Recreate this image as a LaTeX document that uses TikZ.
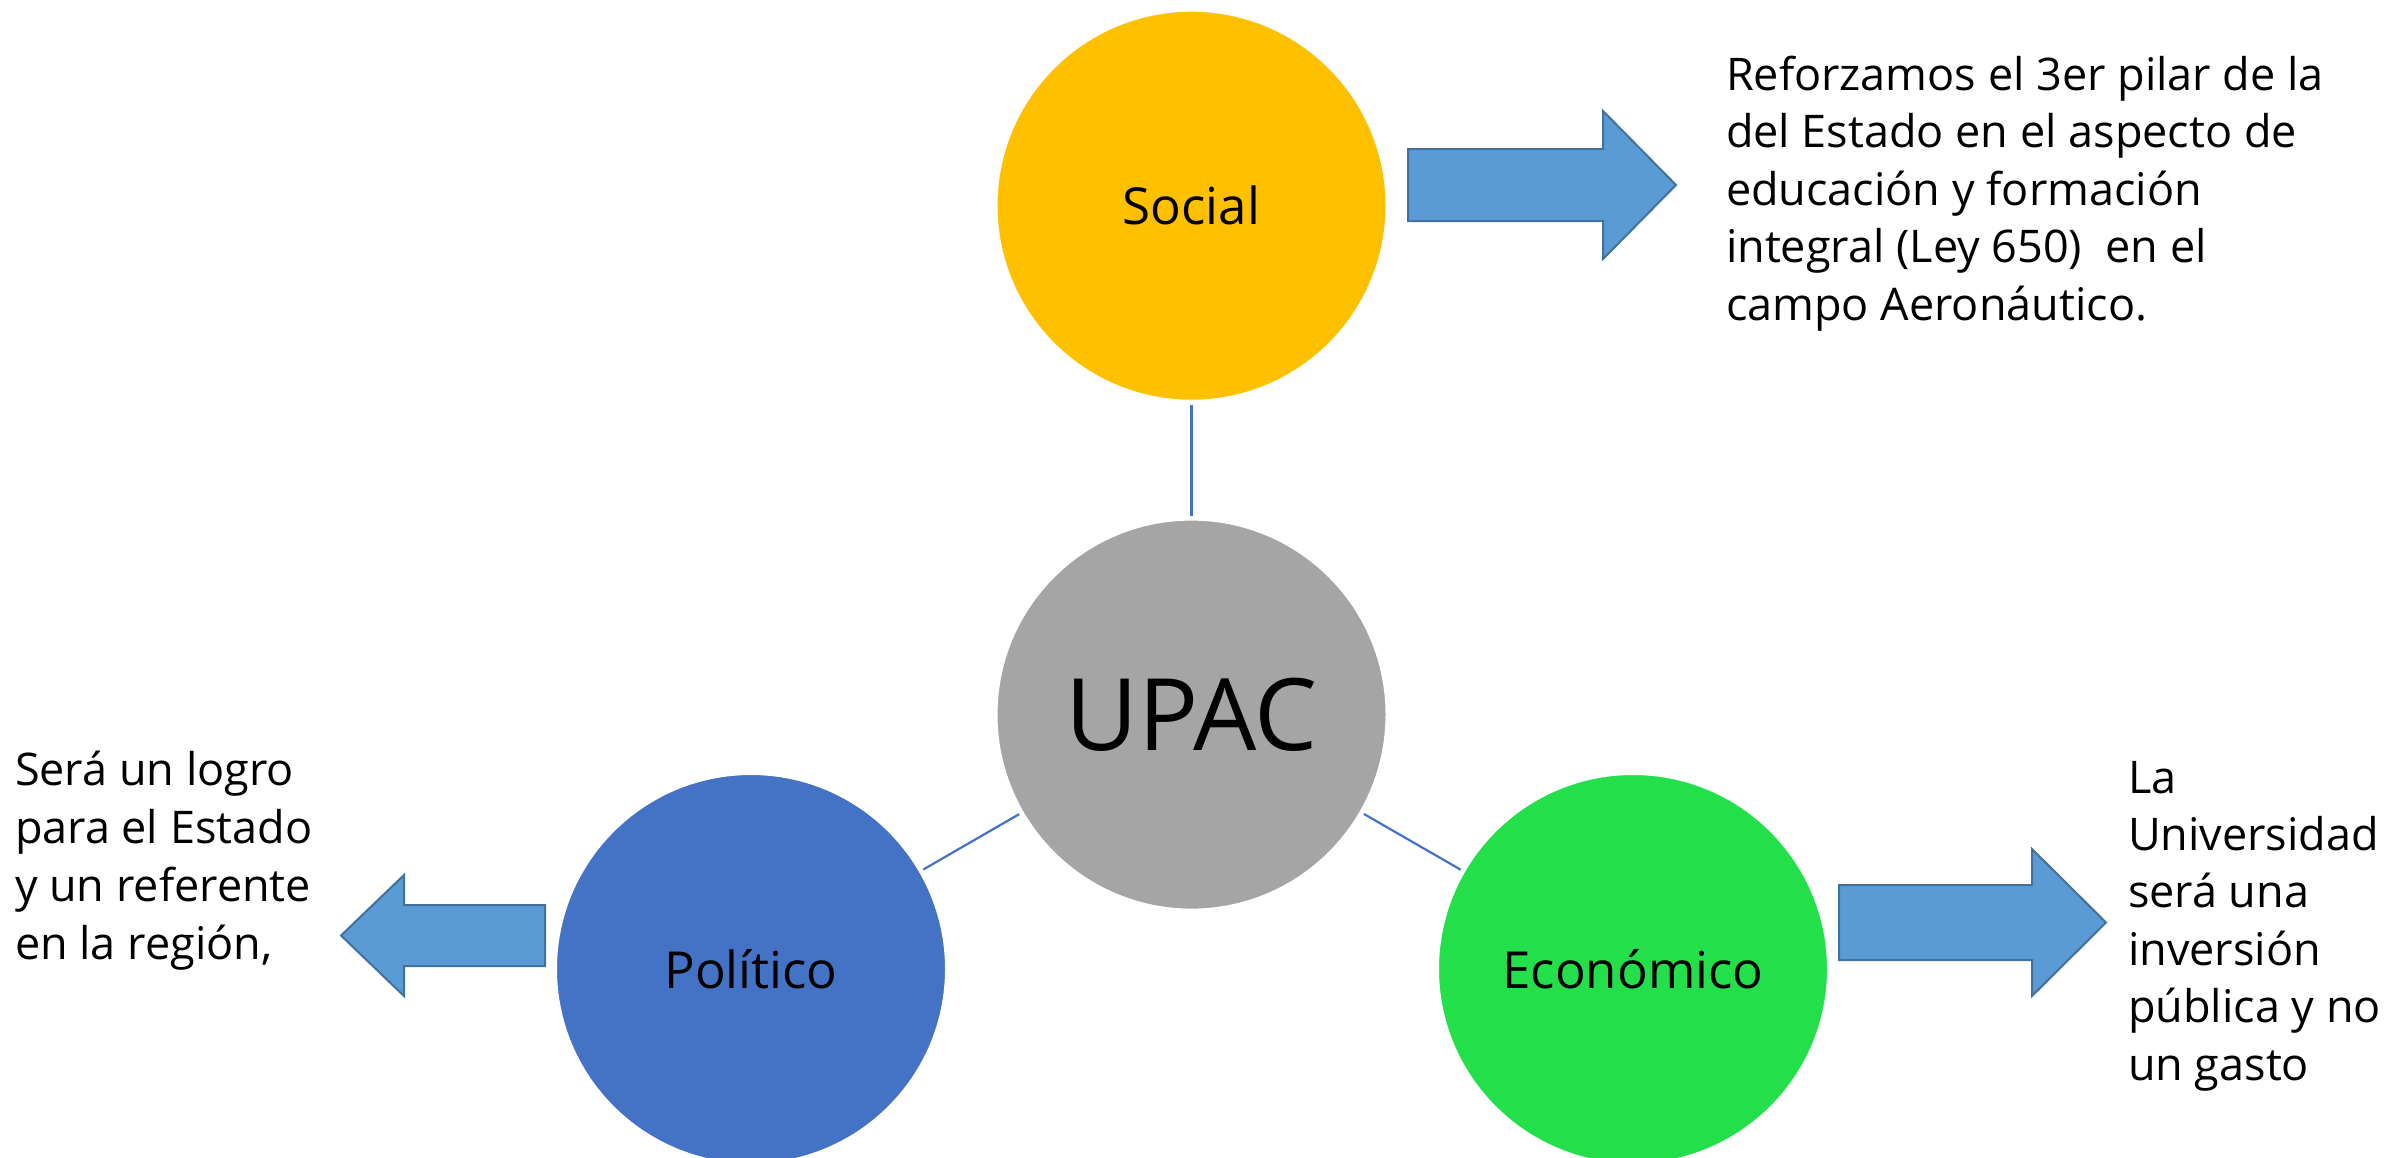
\documentclass[tikz,border=0pt]{standalone}
\usepackage{fontspec}
\setmainfont{Open Sans}
\definecolor{socialc}{HTML}{FFC000}
\definecolor{upacc}{HTML}{A5A5A5}
\definecolor{politc}{HTML}{4472C4}
\definecolor{econc}{HTML}{23E04A}
\definecolor{arrfill}{HTML}{5B9BD5}
\definecolor{arrdraw}{HTML}{41719C}
\definecolor{linec}{HTML}{4472C4}
\tikzset{
  circ/.style={circle, minimum size=390pt, inner sep=0pt, draw=white, line width=2pt, outer sep=4pt,
    font=\fontsize{51}{61}\selectfont},
  conn/.style={draw=linec, line width=2.2pt},
  bigarrow/.style={fill=arrfill, draw=arrdraw, line width=2pt, line join=miter},
  desc/.style={anchor=base west, align=left, inner sep=0pt, outer sep=0pt}
}
\begin{document}
\begin{tikzpicture}[x=1pt,y=-1pt]
\useasboundingbox[fill=white] (0,0) rectangle (2389,1157);
\begin{scope}
\clip (0,0) rectangle (2389,1157);
\node[circ, fill=socialc] (soc) at (1191.5,205.7) {Social};
\node[circ, fill=upacc, font=\fontsize{100}{120}\selectfont] (upac) at (1191.5,714.6) {UPAC};
\node[circ, fill=politc] (pol) at (751,969) {Político};
\node[circ, fill=econc] (eco) at (1633,969) {Económico};
\end{scope}
\draw[conn] (soc) -- (upac);
\draw[conn] (pol) -- (upac);
\draw[conn] (eco) -- (upac);
% arrows
\draw[bigarrow] (1408,149) -- (1603,149) -- (1603,111) -- (1676,185) -- (1603,259) -- (1603,221) -- (1408,221) -- cycle;
\draw[bigarrow] (545,905) -- (404,905) -- (404,875) -- (341,935.5) -- (404,996) -- (404,966) -- (545,966) -- cycle;
\draw[bigarrow] (1839,885) -- (2032,885) -- (2032,849) -- (2106,922.5) -- (2032,996) -- (2032,960) -- (1839,960) -- cycle;
% texts (anchored at the baseline of their last line)
\node[desc, font=\fontsize{45}{57.5}\selectfont] (tsoc) at (1726,320) {Reforzamos el 3er pilar de la\\del Estado en el aspecto de\\educación y formación\\integral (Ley 650)\ \ en el\\campo Aeronáutico.};
\node[desc, font=\fontsize{45}{58}\selectfont] (tpol) at (15,959) {Será un logro\\para el Estado\\y un referente\\en la región,};
\node[desc, font=\fontsize{45}{57.4}\selectfont] (teco) at (2128,1080) {La\\Universidad\\será una\\inversión\\pública y no\\un gasto};
\end{tikzpicture}
\end{document}
